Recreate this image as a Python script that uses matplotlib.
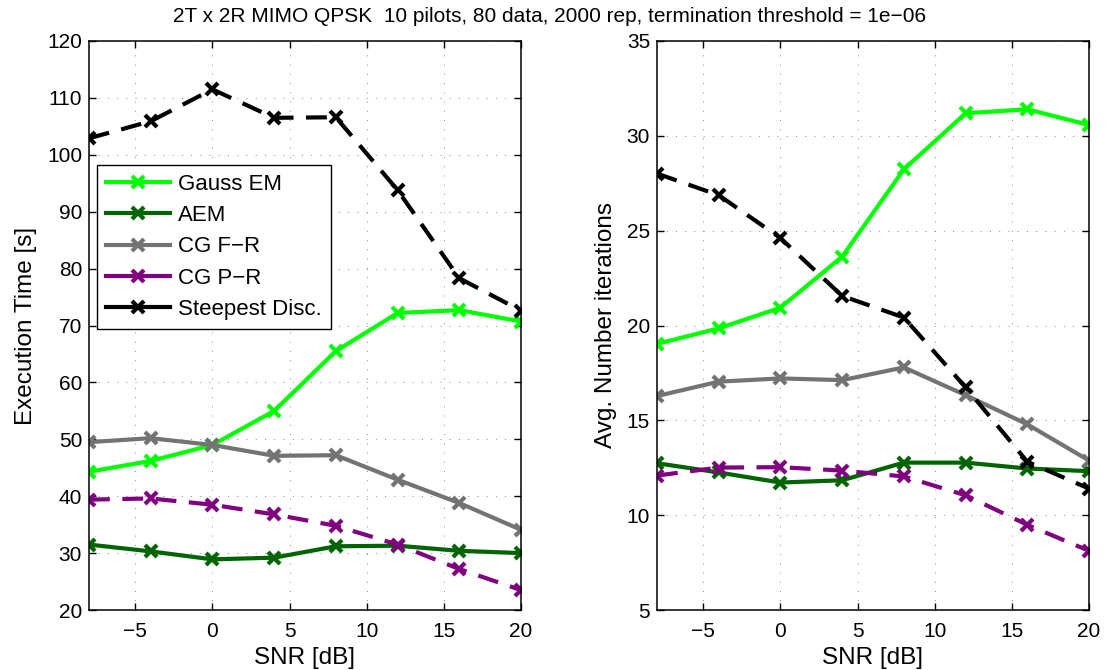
import numpy as np
import matplotlib
matplotlib.use('Agg')
import matplotlib.pyplot as plt
from matplotlib.lines import Line2D

plt.rcParams['font.family'] = ['Liberation Sans', 'DejaVu Sans']

snr = [-8, -4, 0, 4, 8, 12, 16, 20]
labels = ['Gauss EM', 'AEM', 'CG F\u2212R', 'CG P\u2212R', 'Steepest Disc.']

# execution time [s]
time_gauss = [44.3, 46.2, 49.0, 55.0, 65.5, 72.2, 72.7, 70.7]
time_aem = [31.5, 30.3, 28.9, 29.2, 31.2, 31.3, 30.4, 30.0]
time_cgfr = [49.5, 50.2, 49.0, 47.1, 47.2, 42.9, 38.8, 34.1]
time_cgpr = [39.4, 39.6, 38.5, 36.8, 34.8, 31.5, 27.2, 23.5]
time_steep = [102.9, 105.9, 111.5, 106.5, 106.6, 93.8, 78.3, 72.6]

# average number of iterations
iter_gauss = [19.03, 19.85, 20.94, 23.63, 28.23, 31.19, 31.4, 30.57]
iter_aem = [12.74, 12.25, 11.72, 11.84, 12.77, 12.77, 12.46, 12.32]
iter_cgfr = [16.28, 17.04, 17.21, 17.12, 17.79, 16.33, 14.79, 12.88]
iter_cgpr = [12.09, 12.51, 12.53, 12.35, 12.04, 11.05, 9.49, 8.12]
iter_steep = [28.01, 26.87, 24.61, 21.56, 20.42, 16.74, 12.82, 11.4]

colors = ['#00ff00', '#006400', '#737373', '#800080', 'black']
dashed = [False, False, False, True, True]


def draw_panel(ax, series, ylim, yticks, ylabel):
    for vals, col, lab, dsh in zip(series, colors, labels, dashed):
        line, = ax.plot(snr, vals, color=col, lw=3, marker='x', ms=8,
                        mew=3, label=lab)
        if dsh:
            line.set_dashes((5, 3))
    ax.set_xlim(-8, 20)
    ax.set_ylim(*ylim)
    ax.set_xticks([-5, 0, 5, 10, 15, 20])
    ax.set_yticks(yticks)
    ax.grid(True, color='#888888', lw=0.7, dashes=(1, 8.5))
    ax.tick_params(direction='in', top=True, right=True, labelsize=15,
                   length=5, width=1)
    ax.tick_params(axis='x', pad=8.5)
    ax.tick_params(axis='y', pad=5)
    for sp in ax.spines.values():
        sp.set_linewidth(1.1)
    ax.set_xlabel('SNR [dB]', fontsize=17.5, labelpad=4.5)
    ax.set_ylabel(ylabel, fontsize=17.5, labelpad=7)


fig = plt.figure(figsize=(11.08, 6.70), dpi=100)
ax1 = fig.add_axes([89 / 1108, 60 / 670, 432 / 1108, 569 / 670])
ax2 = fig.add_axes([657 / 1108, 60 / 670, 432 / 1108, 569 / 670])

draw_panel(ax1, [time_gauss, time_aem, time_cgfr, time_cgpr, time_steep],
           (20, 120), np.arange(20, 121, 10), 'Execution Time [s]')
draw_panel(ax2, [iter_gauss, iter_aem, iter_cgfr, iter_cgpr, iter_steep],
           (5, 35), np.arange(5, 36, 5), 'Avg. Number iterations')

# legend shows solid handles, like the original
handles = [Line2D([], [], color=c, lw=3, marker='x', ms=8, mew=3)
           for c in colors]
leg = ax1.legend(handles, labels, loc='upper left',
                 bbox_to_anchor=(0.0185, 0.782), borderaxespad=0,
                 fontsize=16, fancybox=False, framealpha=1,
                 edgecolor='black', handlelength=2.9, handletextpad=0.36,
                 labelspacing=0.46, borderpad=0.4)
leg.get_frame().set_linewidth(1)

fig.text(0.496, 0.975, '2T x 2R MIMO QPSK  10 pilots, 80 data, 2000 rep, '
         'termination threshold = 1e\u221206', fontsize=15,
         ha='center', va='center')

fig.savefig('out.png', dpi=100)
